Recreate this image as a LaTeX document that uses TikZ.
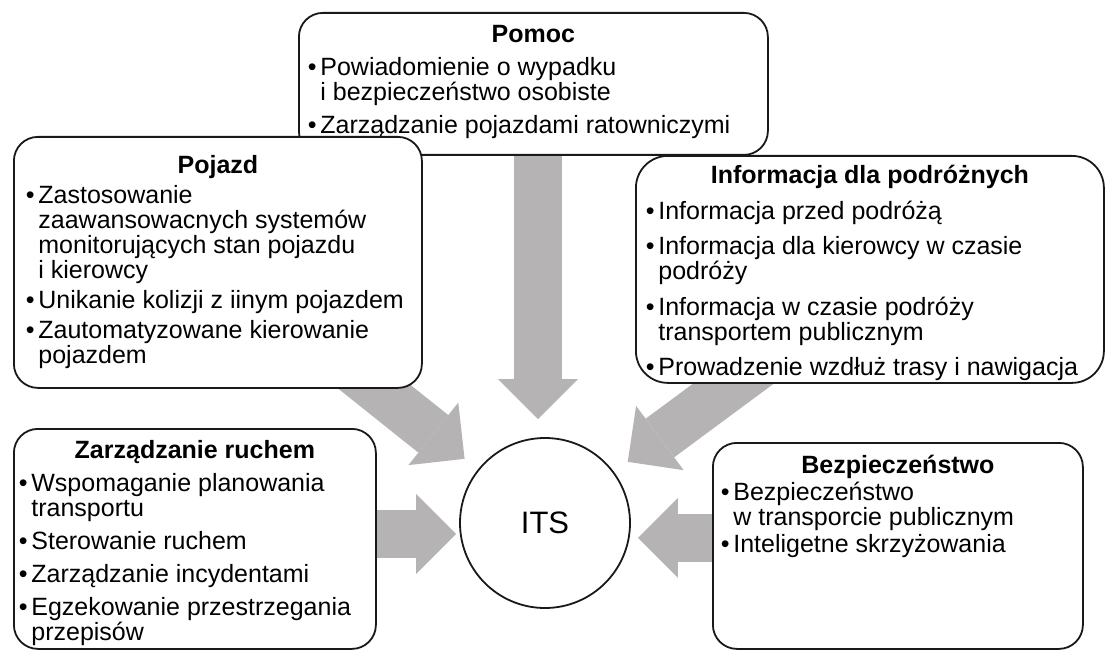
\documentclass[tikz,border=0pt]{standalone}
\usepackage{fontspec}
\setmainfont{Liberation Sans}
\usepackage{tikz}
\usetikzlibrary{arrows.meta,backgrounds}
\definecolor{arrowgray}{RGB}{181,179,180}
\tikzstyle{panel}=[rectangle, draw=black!90, line width=1.8pt, fill=white, rounded corners=24pt, anchor=north west, inner ysep=0pt, font=\fontsize{25}{25}\selectfont]
\tikzstyle{hub}=[circle, draw=black!90, line width=1.8pt, fill=white, minimum size=170pt, inner sep=0pt, font=\fontsize{31}{31}\selectfont]
\tikzstyle{fat}=[draw=arrowgray, line width=48pt, -{Triangle[length=40pt,width=80pt,line width=0pt]}]
% box body: width, height, top gap, item gap, text
\newcommand{\panelbody}[5]{\parbox[c][#2pt][t]{#1pt}{\setlength{\parskip}{#4pt}\setlength{\lineskiplimit}{-10pt}\raggedright\vspace*{\dimexpr#3pt-#4pt\relax}#5}}
\newcommand{\paneltitle}[1]{{\centering\bfseries\rule{0pt}{20pt}#1\par}}
\newcommand{\itm}[1]{\par\noindent\hangindent=0.5em\hangafter=1\makebox[0.5em][l]{\textbullet}#1}

\begin{document}
\begin{tikzpicture}[x=1pt,y=-1pt]
\useasboundingbox (0,0) rectangle (1106,650);
%Boxes
\node[panel, inner xsep=9pt] (pomoc) at (298,12){\panelbody{451}{142}{10}{8}{%
\paneltitle{Pomoc}
\itm{Powiadomienie o wypadku\newline i bezpieczeństwo osobiste}
\itm{Zarządzanie pojazdami ratowniczymi}}};
\node[panel, inner xsep=12pt] (pojazd) at (13,136){\panelbody{384}{251}{16.5}{5}{%
\paneltitle{Pojazd}
\itm{Zastosowanie\newline zaawansowacnych systemów\newline monitorujących stan pojazdu\newline i kierowcy}
\itm{Unikanie kolizji z iinym pojazdem}
\itm{Zautomatyzowane kierowanie\newline pojazdem}}};
\node[panel, inner xsep=10pt, rounded corners=32pt] (info) at (635,155){\panelbody{448}{227}{8}{10.5}{%
\paneltitle{Informacja dla podróżnych}
\itm{Informacja przed podróżą}
\itm{Informacja dla kierowcy w czasie\newline podróży}
\itm{Informacja w czasie podróży\newline transportem publicznym}
\itm{Prowadzenie wzdłuż trasy i nawigacja}}};
\node[panel, inner xsep=5pt] (zarz) at (13,428){\panelbody{352}{220}{10}{8}{%
\paneltitle{Zarządzanie ruchem}
\itm{Wspomaganie planowania\newline transportu}
\itm{Sterowanie ruchem}
\itm{Zarządzanie incydentami}
\itm{Egzekowanie przestrzegania\newline przepisów}}};
\node[panel, inner xsep=8pt] (bezp) at (712,442){\panelbody{354}{206}{11}{2}{%
\paneltitle{Bezpieczeństwo}
\itm{Bezpieczeństwo\newline w transporcie publicznym}
\itm{Inteligetne skrzyżowania}}};
%Centre
\node[hub] (its) at (545,523){ITS};
%Arrows
\coordinate (pomoctail) at ([xshift=4.5pt,yshift=14pt]pomoc.south);
\coordinate (pojazdtail) at ([xshift=-81pt,yshift=28pt]pojazd.south east);
\coordinate (infotail) at ([xshift=132pt,yshift=25pt]info.south west);
\coordinate (zarztail) at ([xshift=-15pt,yshift=5pt]zarz.east);
\coordinate (bezptail) at ([xshift=15pt,yshift=8pt]bezp.west);
\begin{scope}[on background layer]
\draw[fat, shorten >=18pt] (pomoctail) -- (pomoctail |- its.north);
\draw[fat, shorten >=17pt] (pojazdtail) -- (its);
\draw[fat, shorten >=17pt] (infotail) -- (its);
\draw[fat, shorten >=3pt] (zarztail) -- (zarztail -| its.west);
\draw[fat, shorten >=7pt] (bezptail) -- (bezptail -| its.east);
\end{scope}
\end{tikzpicture}
\end{document}
